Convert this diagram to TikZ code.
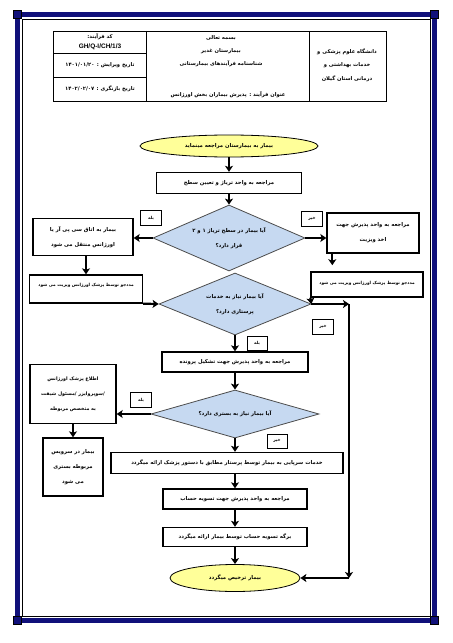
\documentclass[tikz,border=0pt]{standalone}
\usepackage{fontspec}
\usepackage{tikz}
\usetikzlibrary{shapes.geometric, arrows.meta}
\TeXXeTstate=1
\newfontfamily\farsi[Script=Arabic]{DejaVu Sans}
\newfontfamily\latinfont{Liberation Sans}
\definecolor{diablue}{HTML}{C6D9F1}
\definecolor{termyellow}{HTML}{FFFF99}
\definecolor{framenavy}{HTML}{10107A}
\newcommand{\rl}[1]{\beginR #1\endR}
\newcommand{\fasz}{\farsi\bfseries\fontsize{5.3}{15}\selectfont}
\newcommand{\fasmall}{\farsi\bfseries\fontsize{4.3}{6}\selectfont}

\tikzset{
  procbox/.style={draw, line width=1.4bp, fill=white, align=center, inner sep=0pt, font=\fasz},
  decision/.style={diamond, draw=black!70, line width=0.8bp, fill=diablue, align=center, inner sep=0pt, font=\fasz},
  terminal/.style={ellipse, draw, line width=0.8bp, fill=termyellow, inner sep=0pt, font=\fasz},
  tag/.style={draw, line width=0.6bp, fill=white, inner sep=0pt, minimum width=21bp, minimum height=15bp, font=\farsi\bfseries\fontsize{4.2}{5}\selectfont},
  flow/.style={line width=2.2bp, -{Stealth[length=6bp, width=8bp, inset=1.5bp]}},
  hdtext/.style={font=\farsi\bfseries\fontsize{5.2}{6}\selectfont, inner sep=0pt}
}

\begin{document}
\begin{tikzpicture}[x=1bp, y=-1bp]
    \useasboundingbox (0,0) rectangle (453,643);

    % Page frame
    \draw[framenavy, line width=5bp] (17.5,14.5) rectangle (434.5,620.5);
    \draw[line width=0.4bp] (22,19) rectangle (430,616);
    \foreach \cx/\cy in {17.5/14.5, 434.5/14.5, 17.5/620.5, 434.5/620.5}
        \draw[line width=0.5bp, fill=framenavy] (\cx-4,\cy-4) rectangle (\cx+4,\cy+4);

    % Header table
    \draw[line width=0.6bp] (53,31) rectangle (386,101);
    \draw[line width=0.6bp] (146,31) -- (146,101);
    \draw[line width=0.6bp] (309,31) -- (309,101);
    \draw[line width=0.6bp] (53,53) -- (146,53);
    \draw[line width=0.6bp] (53,77) -- (146,77);

    \node[hdtext] (hdcode) at (100,37) {\rl{کد فرآیند:}};
    \node[inner sep=0pt, font=\latinfont\bfseries\fontsize{6.5}{7}\selectfont] (hdid) at (100,47) {GH/Q-I/CH/1/3};
    \node[hdtext] (hdedit) at (100,65) {\rl{تاریخ ویرایش : \beginL ۱۴۰۱/۰۱/۲۰\endL{}}};
    \node[hdtext] (hdreview) at (100,89) {\rl{تاریخ بازنگری : \beginL ۱۴۰۲/۰۲/۰۷\endL{}}};

    \node[hdtext] (hdbasm) at (221,38) {\rl{بسمه تعالی}};
    \node[hdtext] (hdhosp) at (221,51) {\rl{بیمارستان غدیر}};
    \node[hdtext] (hdsheet) at (221,64) {\rl{شناسنامه فرآیندهای بیمارستانی}};
    \node[hdtext] (hdtitle) at (228,95) {\rl{عنوان فرآیند :  پذیرش بیماران بخش اورژانس}};

    \node[hdtext, align=center, font=\farsi\bfseries\fontsize{5.2}{13.5}\selectfont] (hduni) at (347,65)
        {\rl{دانشگاه علوم پزشکی و}\\\rl{خدمات بهداشتی و}\\\rl{درمانی استان گیلان}};

    % Flowchart nodes
    \node[terminal, minimum width=178bp, minimum height=22bp] (start) at (229,146) {\rl{بیمار به بیمارستان مراجعه مینماید}};
    \node[procbox, minimum width=145bp, minimum height=21bp] (triage) at (229,183) {\rl{مراجعه به واحد تریاژ و تعیین سطح}};
    \node[decision, minimum width=152bp, minimum height=66bp, aspect=2.3] (level) at (229,238)
        {\rl{آیا بیمار در سطح تریاژ ۱ و ۲}\\\rl{قرار دارد؟}};
    \node[procbox, minimum width=100bp, minimum height=37bp] (cpr) at (83,237)
        {\rl{بیمار به اتاق سی پی آر یا}\\\rl{اورژانس منتقل می شود}};
    \node[procbox, minimum width=92bp, minimum height=40bp] (admit) at (373,233)
        {\rl{مراجعه به واحد پذیرش جهت}\\\rl{اخذ ویزیت}};
    \node[procbox, minimum width=113bp, minimum height=28bp,
        label={[anchor=north, yshift=-5bp, font=\fasmall]north:{\beginR مددجو توسط پزشک اورژانس ویزیت می شود\endR}}] (visitL) at (86,289) {};
    \node[procbox, minimum width=112bp, minimum height=25bp,
        label={[anchor=north, yshift=-6bp, font=\fasmall]north:{\beginR مددجو توسط پزشک اورژانس ویزیت می شود\endR}}] (visitR) at (367,284.5) {};
    \node[decision, minimum width=152bp, minimum height=62bp, aspect=2.45] (nursing) at (235,304)
        {\rl{آیا بیمار نیاز به خدمات}\\\rl{پرستاری دارد؟}};
    \node[procbox, minimum width=146bp, minimum height=20bp] (record) at (235,362) {\rl{مراجعه به واحد پذیرش جهت تشکیل پرونده}};
    \node[decision, minimum width=168bp, minimum height=48bp, aspect=3.5] (bedneed) at (235,414) {\rl{آیا بیمار نیاز به بستری دارد؟}};
    \node[procbox, minimum width=86bp, minimum height=59bp, font=\farsi\bfseries\fontsize{4.8}{15}\selectfont] (notify) at (73,394)
        {\rl{اطلاع پزشک اورژانس}\\\rl{/سوپروایزر /مسئول شیفت}\\\rl{به متخصص مربوطه}};
    \node[procbox, minimum width=60bp, minimum height=58bp] (ward) at (73,467)
        {\rl{بیمار در سرویس}\\\rl{مربوطه بستری}\\\rl{می شود}};
    \node[procbox, minimum width=232bp, minimum height=21bp] (care) at (227,463)
        {\rl{خدمات سرپایی به بیمار توسط  پرستار مطابق با دستور پزشک ارائه میگردد}};
    \node[procbox, minimum width=144bp, minimum height=20bp] (settle) at (235,499) {\rl{مراجعه به واحد پذیرش جهت تسویه حساب}};
    \node[procbox, minimum width=144bp, minimum height=19bp] (sheet) at (235,537) {\rl{برگه تسویه حساب توسط بیمار ارائه میگردد}};
    \node[terminal, minimum width=130bp, minimum height=27bp] (discharge) at (235,578) {\rl{بیمار ترخیص میگردد}};

    % Yes / no tags
    \node[tag] (yes1) at (151,218) {\rl{بله}};
    \node[tag] (no1) at (312,219) {\rl{خیر}};
    \node[tag] (no2) at (323,327) {\rl{خیر}};
    \node[tag, minimum width=20bp, minimum height=14bp] (yes2) at (257,343) {\rl{بله}};
    \node[tag] (yes3) at (141,400) {\rl{بله}};
    \node[tag, minimum width=20bp, minimum height=14bp] (no3) at (277,441) {\rl{خیر}};

    \coordinate (bendA) at (349,304);
    \coordinate (bendB) at (349,578);

    % Connectors
    \draw[flow] (start) -- (triage);
    \draw[flow] (triage) -- (level);
    \draw[flow] (level.west) -- (cpr.east |- level.west);
    \draw[flow] (level.east) -- (admit.west |- level.east);
    \draw[flow] (cpr.south -| visitL.north) -- (visitL.north);
    \draw[flow] (admit.south west) ++(6,0) -- ++(0,11.5);
    \draw[flow] (visitL.south east) -- (nursing.west);
    \draw[flow] (visitR.south west) -- (nursing.east);
    \draw[flow] (nursing.east) -- (bendA);
    \draw[flow] (bendA) -- (bendB);
    \draw[flow] (bendB) -- (discharge.east);
    \draw[flow] (nursing) -- (record);
    \draw[flow] (record) -- (bedneed);
    \draw[flow] (bedneed.west) -- (notify.east |- bedneed.west);
    \draw[flow] (notify) -- (ward);
    \draw[flow] (bedneed.south) -- (bedneed.south |- care.north);
    \draw[flow] (care.south -| settle.north) -- (settle.north);
    \draw[flow] (settle) -- (sheet);
    \draw[flow] (sheet) -- (discharge);

\end{tikzpicture}
\end{document}
